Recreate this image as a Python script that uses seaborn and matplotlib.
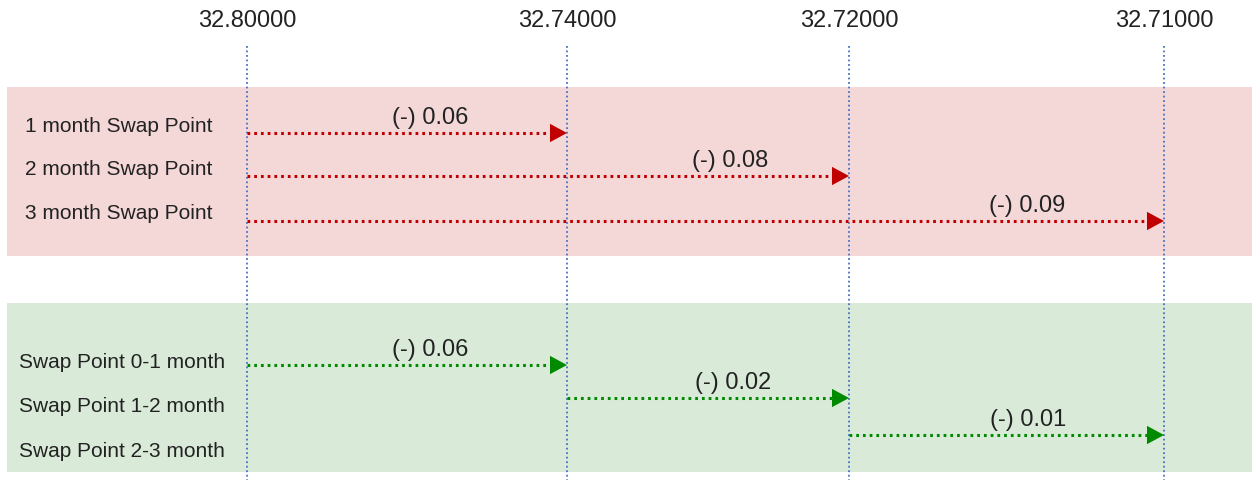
import numpy as np
import pandas as pd
import matplotlib
matplotlib.use('Agg')
import matplotlib.pyplot as plt
from matplotlib.patches import Rectangle
import seaborn as sns

# rates on the top row
rates = [32.80, 32.74, 32.72, 32.71]

# cumulative swap points (all start at spot)
month_labels = ['1 month Swap Point', '2 month Swap Point', '3 month Swap Point']
month_diff = [0.06, 0.08, 0.09]
month_from = [0, 0, 0]
month_to = [1, 2, 3]

# period swap points (step by step)
step_labels = ['Swap Point 0-1 month', 'Swap Point 1-2 month', 'Swap Point 2-3 month']
step_diff = [0.06, 0.02, 0.01]
step_from = [0, 1, 2]
step_to = [1, 2, 3]

# layout (pixels)
col_x = [247, 567, 849, 1164]
month_arrow_y = [134, 177, 222]
month_label_y = [126, 170, 214]
month_text_dx = [-137, -119, -137]
step_arrow_y = [366, 399, 436]
step_label_y = [363, 407, 452]
step_text_dx = [-137, -116, -136]

sns.set_theme(style='white')
plt.rcParams['font.family'] = ['Liberation Sans', 'DejaVu Sans']

fig = plt.figure(figsize=(12.52, 4.81), dpi=100)
ax = fig.add_axes([0, 0, 1, 1])

red = '#C00000'
green = '#008A00'
txt = '#222222'

ax.add_patch(Rectangle((7, 88), 1245, 169, facecolor='#F4D7D7', edgecolor='none', zorder=0))
ax.add_patch(Rectangle((7, 304), 1245, 169, facecolor='#D9EBD8', edgecolor='none', zorder=0))

ax.vlines(col_x, 47, 481, colors='#4472C4', linestyles=(0, (1, 1.5)), linewidth=1.3, zorder=1)

for x, r in zip(col_x, rates):
    ax.text(x, 21, f'{r:.5f}', ha='center', va='center', fontsize=17, color=txt)

# arrow head with its tip at the point
head = [(0, 0), (-1, 0.54), (-1, -0.54)]


def draw_arrows(starts, ends, ys, diffs, dxs, color):
    rows = []
    for i, (a, b, y) in enumerate(zip(starts, ends, ys)):
        rows.append({'id': i, 'x': col_x[a], 'y': y})
        rows.append({'id': i, 'x': col_x[b] - 12, 'y': y})
    df = pd.DataFrame(rows)
    sns.lineplot(data=df, x='x', y='y', units='id', estimator=None, sort=False,
                 color=color, linewidth=2.2, linestyle=(0, (0.9, 1.3)), ax=ax, zorder=2)
    tips = pd.DataFrame({'x': [col_x[b] for b in ends], 'y': ys})
    sns.scatterplot(data=tips, x='x', y='y', marker=head, s=600, color=color,
                    edgecolor='none', ax=ax, zorder=3)
    for b, y, d, dx in zip(ends, ys, diffs, dxs):
        ax.text(col_x[b] + dx, y - 16, f'(-) {d:.2f}', ha='center', va='center',
                fontsize=17, color=txt)


draw_arrows(month_from, month_to, month_arrow_y, month_diff, month_text_dx, red)
draw_arrows(step_from, step_to, step_arrow_y, step_diff, step_text_dx, green)

for lab, y in zip(month_labels, month_label_y):
    ax.text(25, y, lab, ha='left', va='center', fontsize=15, color=txt)
for lab, y in zip(step_labels, step_label_y):
    ax.text(19, y, lab, ha='left', va='center', fontsize=15, color=txt)

ax.set_xlim(0, 1252)
ax.set_ylim(481, 0)
ax.axis('off')
fig.savefig('out.png', dpi=100)
